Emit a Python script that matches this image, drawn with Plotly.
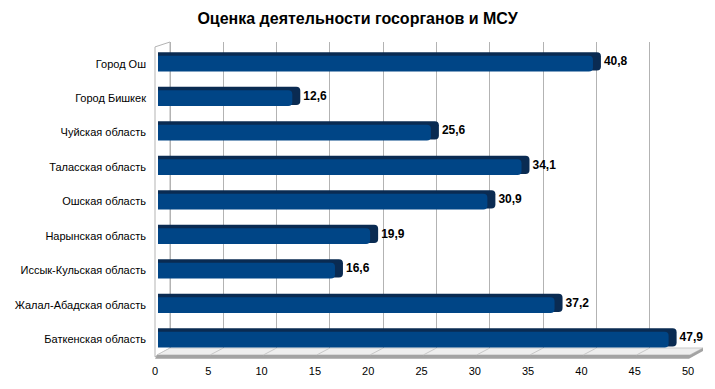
import plotly.graph_objects as go

# ---- data (top of chart first) ----
regions = [
    "Город Ош",
    "Город Бишкек",
    "Чуйская область",
    "Таласская область",
    "Ошская область",
    "Нарынская область",
    "Иссык-Кульская область",
    "Жалал-Абадская область",
    "Баткенская область",
]
scores = [40.8, 12.6, 25.6, 34.1, 30.9, 19.9, 16.6, 37.2, 47.9]
tick_values = [0, 5, 10, 15, 20, 25, 30, 35, 40, 45, 50]
tick_labels = [str(v) for v in tick_values]
title_text = "Оценка деятельности госорганов и МСУ"

# plotly draws first category at bottom -> reverse
cats = regions[::-1]
vals = scores[::-1]
labels = [f"{v:.1f}".replace(".", ",") for v in vals]

FACE = "#004586"
DARK = "#0a2b52"
GRID = "#b3b3b3"
DEPTH = 0.75  # 3D depth of bar (in axis units)

fig = go.Figure()

# dark "extrusion" behind the bar (top stripe + right cap)
fig.add_trace(go.Bar(
    y=cats, x=[v + DEPTH for v in vals], orientation="h",
    marker=dict(color=DARK, line=dict(width=0), cornerradius=4),
    width=0.53, offset=-0.2,
    text=labels, textposition="outside", cliponaxis=False,
    textfont=dict(family="Liberation Sans", size=12, color="black", weight="bold"),
    hoverinfo="skip", showlegend=False, xaxis="x", yaxis="y",
))
# front face
fig.add_trace(go.Bar(
    y=cats, x=vals, orientation="h",
    marker=dict(color=FACE, line=dict(width=0), cornerradius=4),
    width=0.456, offset=-0.228,
    hoverinfo="skip", showlegend=False, xaxis="x", yaxis="y",
))
# invisible anchors for the grid axis and the tick-label axis
fig.add_trace(go.Scatter(x=[tick_values[0], tick_values[-1]], y=[cats[0], cats[0]],
                         mode="markers", marker=dict(opacity=0), hoverinfo="skip",
                         showlegend=False, xaxis="x2", yaxis="y"))
fig.add_trace(go.Scatter(x=[tick_values[0], tick_values[-1]], y=[cats[0], cats[0]],
                         mode="markers", marker=dict(opacity=0), hoverinfo="skip",
                         showlegend=False, xaxis="x3", yaxis="y"))

W, H = 715, 389
L_PX, R_PX, T_PX, B_PX = 155, 703, 42, 353
S = (688 - 155) / 50.0
span = (R_PX - L_PX) / S


def px(xp):
    return (xp - L_PX) / (R_PX - L_PX)


def py(yp):
    return (B_PX - yp) / (B_PX - T_PX)


def path(points):
    return "M " + " L ".join(f"{px(a)} {py(b)}" for a, b in points) + " Z"


shapes = [
    # left wall
    dict(type="path", xref="paper", yref="paper",
         path=path([(155, 47), (170, 42), (170, 353), (155, 362)]),
         fillcolor="white", line=dict(color=GRID, width=1), layer="below"),
    # floor top surface
    dict(type="path", xref="paper", yref="paper",
         path=path([(170, 353), (703, 353), (690, 360), (157, 360)]),
         fillcolor="#eeeeee", line=dict(color="#c8c8c8", width=1), layer="below"),
    # floor front edge
    dict(type="path", xref="paper", yref="paper",
         path=path([(157, 360), (690, 360), (703, 353), (703, 356), (689, 364), (155, 364)]),
         fillcolor="#a3a3a3", line=dict(width=0), layer="below"),
]
# slanted grid lines on the floor
for v in tick_values[1:-1]:
    xb = 170 + v * S
    shapes.append(dict(type="line", xref="paper", yref="paper",
                       x0=px(xb), y0=py(353), x1=px(xb - 13), y1=py(360),
                       line=dict(color="#c8c8c8", width=1), layer="below"))

fig.update_layout(
    width=W, height=H,
    margin=dict(l=L_PX, r=W - R_PX, t=T_PX, b=H - B_PX, pad=0),
    paper_bgcolor="white", plot_bgcolor="white",
    barmode="overlay",
    font=dict(family="Liberation Sans", size=11, color="black"),
    title=dict(text=title_text, x=0.5, xref="container", xanchor="center",
               y=1 - 18 / H, yref="container", yanchor="middle",
               font=dict(family="Liberation Sans", size=16, color="black", weight="bold")),
    xaxis=dict(range=[-(158 - L_PX) / S, -(158 - L_PX) / S + span], showgrid=False,
               showticklabels=False, zeroline=False, showline=False, ticks=""),
    xaxis2=dict(overlaying="x", anchor="y", range=[-(170 - L_PX) / S, -(170 - L_PX) / S + span],
                tickmode="array", tickvals=tick_values, showticklabels=False,
                showgrid=True, gridcolor=GRID, gridwidth=1, zeroline=False, showline=False, ticks=""),
    xaxis3=dict(overlaying="x", anchor="y", side="bottom", range=[0, span],
                tickmode="array", tickvals=tick_values, ticktext=tick_labels,
                showgrid=False, zeroline=False, showline=False, ticks="",
                ticklabelstandoff=15, tickfont=dict(size=11, color="black")),
    yaxis=dict(type="category", categoryorder="array", categoryarray=cats,
               range=[-(B_PX - 344.5) / 35.06, 8 + (64 - T_PX) / 35.06],
               showgrid=False, zeroline=False, showline=False, ticks="",
               ticklabelstandoff=8, tickfont=dict(size=11, color="black")),
    shapes=shapes,
)

fig.write_html("out.html", config={"displayModeBar": False},
               post_script="document.body.style.margin='0';")
